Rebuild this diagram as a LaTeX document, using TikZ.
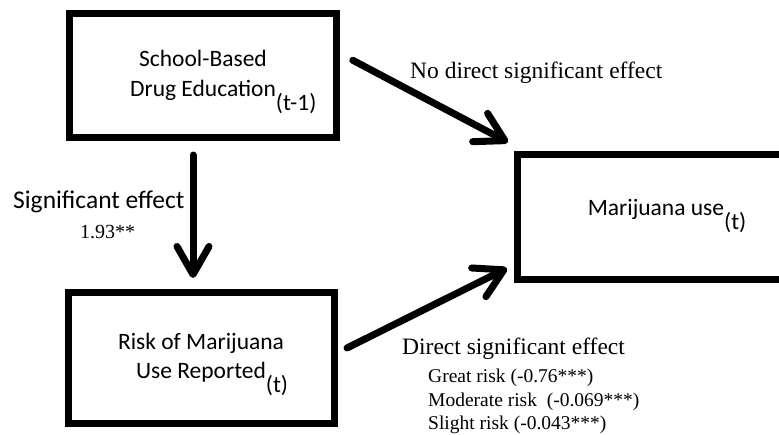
\documentclass[tikz,border=0pt]{standalone}
\usepackage{fontspec}
\setmainfont{Liberation Serif}
\newfontfamily\boxfont{Carlito}
\usetikzlibrary{
	arrows.meta,
	positioning
}
% lowered index, kept out of the line width
\newcommand{\lowsub}[1]{\rlap{\smash{\raisebox{-14pt}{#1}}}}

\begin{document}
\begin{tikzpicture}[x=1pt, y=-1pt,
		box/.style={draw, line width=7pt, align=center, inner sep=0pt,
			font=\boxfont\fontsize{23.5}{29.5}\selectfont},
		effect/.style={-{Straight Barb[length=28pt, width=32pt, round]},
			line width=7pt, line cap=round},
		note/.style={anchor=base west, inner sep=0pt, font=\fontsize{23.5}{28}\selectfont},
		level/.style={anchor=base west, inner sep=0pt, font=\fontsize{19.5}{24}\selectfont}]
		\useasboundingbox (0,0) rectangle (779,434);
		
		% Kaesten
		\node[box, minimum width=266.5pt, minimum height=123.5pt] (edu) at (203,75.25)
			{School-Based\\Drug Education\lowsub{(t-1)}};
		\node[box, minimum width=266pt, minimum height=131pt] (risk) at (201,357.5)
			{Risk of Marijuana\\Use Reported\lowsub{(t)}};
		\node[box, minimum width=277pt, minimum height=125.5pt, text depth=19pt] (use) at (656,217)
			{Marijuana use\lowsub{(t)}};
		
		% Pfeile
		\draw[effect] ([xshift=-10pt, yshift=-14.5pt]edu.south) -- ([xshift=-8pt, yshift=10.5pt]risk.north);
		\draw[effect] ([xshift=13pt, yshift=15pt]edu.east) -- ([xshift=-6pt, yshift=8.5pt]use.north west);
		\draw[effect] ([xshift=9.5pt, yshift=9.5pt]risk.east) -- ([xshift=-7pt, yshift=15pt]use.south west);
		
		% Beschriftungen
		\node[note] (nodirect) at (410,78) {No direct significant effect};
		\node[note, font=\boxfont\fontsize{25.5}{28}\selectfont] (signif) at (13,208) {Significant effect};
		\node[level, font=\fontsize{20}{24}\selectfont] (coef) at (80,238) {1.93**};
		\node[note] (direct) at (402,354) {Direct significant effect};
		\node[level] (great) at (428,382) {Great risk (-0.76***)};
		\node[level] (moderate) at (428,406) {Moderate risk\ \ (-0.069***)};
		\node[level] (slight) at (428,429) {Slight risk (-0.043***)};
	\end{tikzpicture}
\end{document}
